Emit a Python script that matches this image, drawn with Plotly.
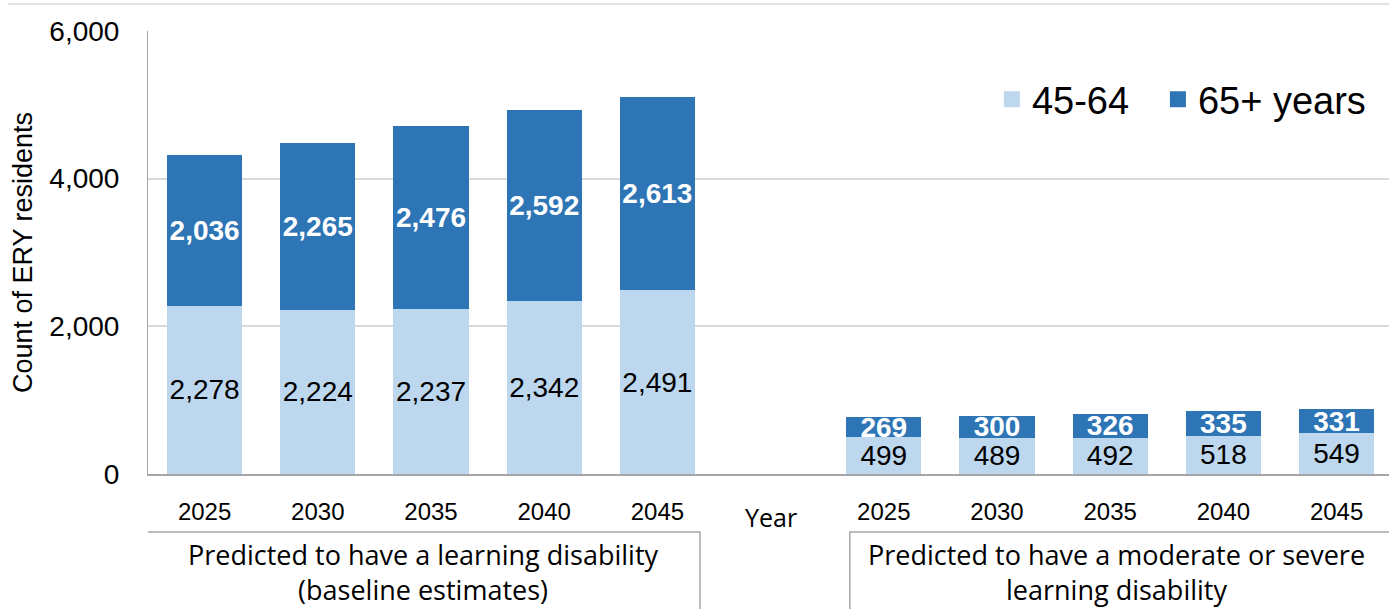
import plotly.graph_objects as go

# ---- data ----
years = ["2025", "2030", "2035", "2040", "2045"]
group_labels = ["Predicted to have a learning disability<br>(baseline estimates)",
                "Predicted to have a moderate or severe<br>learning disability"]
series_names = ["45-64", "65+ years"]
baseline_45_64 = [2278, 2224, 2237, 2342, 2491]
baseline_65 = [2036, 2265, 2476, 2592, 2613]
severe_45_64 = [499, 489, 492, 518, 549]
severe_65 = [269, 300, 326, 335, 331]
y_title = "Count of ERY residents"
gap_label = "Year"
y_ticks = [0, 2000, 4000, 6000]

# positions: 5 baseline slots, 1 gap slot ("Year"), 5 severe slots
x_base = list(range(0, 5))
x_sev = list(range(6, 11))
x_all = x_base + x_sev
v_45 = baseline_45_64 + severe_45_64
v_65 = baseline_65 + severe_65

LIGHT = "#BDD7EE"
DARK = "#2E75B6"
NUM_FONT = "Liberation Sans"
TXT_FONT = "Open Sans"

fig = go.Figure()
fig.add_trace(go.Bar(
    x=x_all, y=v_45, name=series_names[0], marker_color=LIGHT,
    marker_line_width=0, showlegend=False,
    texttemplate="%{y:,}", textposition="inside", insidetextanchor="middle",
    textangle=0, constraintext="none",
    textfont=dict(family=NUM_FONT, size=28, color="black"),
))
fig.add_trace(go.Bar(
    x=x_all, y=v_65, name=series_names[1], marker_color=DARK,
    marker_line_width=0, showlegend=False,
    texttemplate="<b>%{y:,}</b>", textposition="inside", insidetextanchor="middle",
    textangle=0, constraintext="none",
    textfont=dict(family=NUM_FONT, size=28, color="white"),
))
# legend entries (one legend box per series so spacing can match)
for nm, col, lg in zip(series_names, [LIGHT, DARK], ["legend", "legend2"]):
    fig.add_trace(go.Scatter(x=[None], y=[None], mode="markers", name=nm, legend=lg,
                             marker=dict(symbol="square", size=16, color=col)))

legend_common = dict(orientation="h", y=0.845, xanchor="left", yanchor="middle",
                     font=dict(family=NUM_FONT, size=38, color="black"),
                     itemwidth=30, bgcolor="rgba(0,0,0,0)")

fig.update_layout(
    width=1389, height=609,
    margin=dict(l=148, r=0, t=31, b=135),
    paper_bgcolor="white", plot_bgcolor="white",
    barmode="stack", bargap=0.337,
    uniformtext=dict(minsize=22, mode="show"),
    showlegend=True,
    legend=dict(x=0.68, **legend_common),
    legend2=dict(x=0.8138, **legend_common),
    font=dict(family=NUM_FONT, color="black"),
)
fig.update_xaxes(
    range=[-0.5, 10.463], tickmode="array", tickvals=x_all, ticktext=years + years,
    tickfont=dict(family=NUM_FONT, size=24, color="black"),
    ticks="", ticklabelstandoff=15,
    showline=True, linecolor="#A6A6A6", linewidth=1.5, showgrid=False, zeroline=False,
)
fig.update_yaxes(
    range=[0, 6000], tickmode="array", tickvals=y_ticks,
    tickformat=",", tickfont=dict(family=NUM_FONT, size=28, color="black"),
    ticks="", ticklabelstandoff=22,
    showline=True, linecolor="#A6A6A6", linewidth=1,
    showgrid=True, gridcolor="#D9D9D9", gridwidth=1.5, zeroline=False,
    title=dict(text=y_title, font=dict(family=NUM_FONT, size=27, color="black"), standoff=8),
)

# "Year" label in the gap slot
fig.add_annotation(x=5, y=-0.097, xref="x", yref="paper", text=gap_label,
                   showarrow=False, font=dict(family=TXT_FONT, size=25, color="black"),
                   yanchor="middle")

# group boxes with labels
box_y0, box_y1 = -0.40, -0.131
boxes = [(-0.544, 4.376), (5.70, 10.7)]
label_x = [1.93, 8.06]
for (x0, x1), lx, lab in zip(boxes, label_x, group_labels):
    fig.add_shape(type="rect", xref="x", yref="paper", x0=x0, x1=x1, y0=box_y0, y1=box_y1,
                  line=dict(color="#A6A6A6", width=1.5), fillcolor="rgba(0,0,0,0)", layer="above")
    fig.add_annotation(x=lx, y=-0.221, xref="x", yref="paper", text=lab, showarrow=False,
                       font=dict(family=TXT_FONT, size=27, color="black"),
                       align="center", yanchor="middle")

# top border line
fig.add_shape(type="line", xref="paper", yref="paper", x0=-0.113, x1=1.0, y0=1.061, y1=1.061,
              line=dict(color="#D9D9D9", width=1.5))

fig.write_html("out.html", config={"displayModeBar": False},
               post_script="document.body.style.margin='0';")
